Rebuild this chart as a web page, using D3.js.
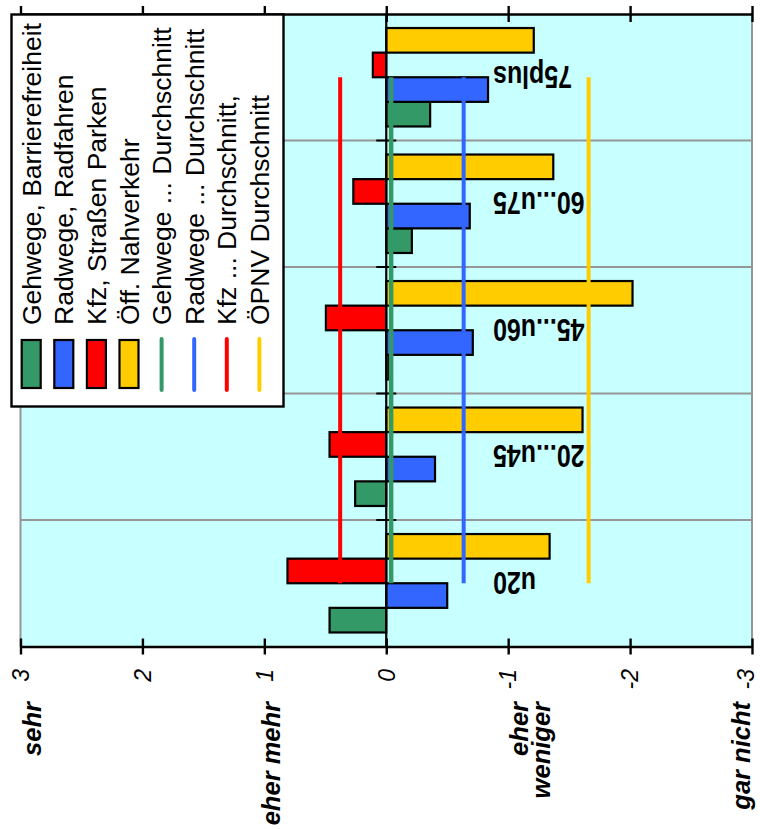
<!DOCTYPE html>
<html>
<head>
<meta charset="utf-8">
<script src="https://cdn.jsdelivr.net/npm/d3@7"></script>
<style>
  body { margin: 0; background: #fff; }
  svg { display: block; }
  text { font-family: "Liberation Sans", Arial, sans-serif; }
</style>
</head>
<body>
<svg id="chart" width="760" height="829"></svg>
<script>
// Age groups, listed from the top of the chart to the bottom
const ageGroups = ["75plus", "60...u75", "45...u60", "20...u45", "u20"];

// Mean rating per age group (3 = sehr, -3 = gar nicht)
const gehwege = [-0.36, -0.21, -0.02, 0.255, 0.465];
const radwege = [-0.835, -0.685, -0.71, -0.40, -0.50];
const kfz     = [0.11, 0.27, 0.495, 0.465, 0.81];
const oepnv   = [-1.21, -1.37, -2.02, -1.61, -1.34];

const seriesNames = ["Gehwege, Barrierefreiheit", "Radwege, Radfahren", "Kfz, Straßen Parken", "Öff. Nahverkehr"];

// Overall averages per topic
const averageNames = ["Gehwege ... Durchschnitt", "Radwege ... Durchschnitt", "Kfz ... Durchschnitt,", "ÖPNV Durchschnitt"];
const averages = [-0.04, -0.635, 0.378, -1.66];

// Value axis
const valueTicks = [3, 2, 1, 0, -1, -2, -3];
const scaleWords = [["sehr"], ["eher mehr"], ["eher", "weniger"], ["gar nicht"]];
const scaleWordValues = [3, 1, -1, -3];

// ---- layout & styling ----
const colors = ["#339966", "#3366FF", "#FF0000", "#FFCC00"];
const plot = { left: 20.5, right: 752, top: 14, bottom: 646.5 };

const svg = d3.select("#chart");
svg.append("rect").attr("width", 760).attr("height", 829).attr("fill", "#fff");

const x = d3.scaleLinear().domain([3, -3]).range([plot.left, plot.right]);
const yGroup = d3.scaleBand().domain(ageGroups).range([plot.top, plot.bottom]).padding(0);
// within a group, bars run top-down: Öff., Kfz, Rad, Geh
const seriesKeys = [3, 2, 1, 0];
const yBar = d3.scaleBand().domain(seriesKeys).range([0, yGroup.bandwidth()])
  .paddingInner(0).paddingOuter(0.57);

const seriesValues = [gehwege, radwege, kfz, oepnv];

// plot background
svg.append("rect")
  .attr("x", plot.left).attr("y", plot.top)
  .attr("width", plot.right - plot.left).attr("height", plot.bottom - plot.top)
  .attr("fill", "#C8FFFF");

// horizontal grid lines between age groups
svg.append("g").selectAll("line")
  .data(ageGroups.slice(1))
  .join("line")
  .attr("x1", plot.left).attr("x2", plot.right)
  .attr("y1", d => yGroup(d)).attr("y2", d => yGroup(d))
  .attr("stroke", "#969696").attr("stroke-width", 2);

// plot-area side borders
svg.append("g").selectAll("line")
  .data([plot.left, plot.right])
  .join("line")
  .attr("x1", d => d).attr("x2", d => d)
  .attr("y1", plot.top).attr("y2", plot.bottom)
  .attr("stroke", "#969696").attr("stroke-width", 2);

// bars
const barData = [];
seriesValues.forEach((vals, s) => vals.forEach((v, i) => barData.push({ s, group: ageGroups[i], v })));

svg.append("g").selectAll("rect")
  .data(barData)
  .join("rect")
  .attr("x", d => Math.min(x(0), x(d.v)))
  .attr("width", d => Math.abs(x(d.v) - x(0)))
  .attr("y", d => yGroup(d.group) + yBar(d.s))
  .attr("height", yBar.bandwidth())
  .attr("fill", d => colors[d.s])
  .attr("stroke", "#000").attr("stroke-width", 2.2);

// category axis along zero, with cross ticks at group boundaries
svg.append("line")
  .attr("x1", x(0)).attr("x2", x(0))
  .attr("y1", plot.top).attr("y2", plot.bottom)
  .attr("stroke", "#000").attr("stroke-width", 2.2);
svg.append("g").selectAll("line")
  .data(ageGroups.slice(1))
  .join("line")
  .attr("x1", x(0) - 10).attr("x2", x(0) + 10)
  .attr("y1", d => yGroup(d)).attr("y2", d => yGroup(d))
  .attr("stroke", "#000").attr("stroke-width", 2);

// average lines, from the first group's centre to the last group's centre
const yFirst = yGroup(ageGroups[0]) + yGroup.bandwidth() / 2;
const yLast = yGroup(ageGroups[ageGroups.length - 1]) + yGroup.bandwidth() / 2;
svg.append("g").selectAll("line")
  .data(averages)
  .join("line")
  .attr("x1", d => x(d)).attr("x2", d => x(d))
  .attr("y1", yFirst).attr("y2", yLast)
  .attr("stroke", (d, i) => colors[i])
  .attr("stroke-width", (d, i) => i === 0 ? 4.5 : 4);

// value axes top and bottom, with crossing ticks
function valueAxis(yPos) {
  const g = svg.append("g").attr("transform", `translate(0,${yPos})`)
    .call(d3.axisBottom(x).tickValues(valueTicks).tickSize(0).tickFormat(""));
  g.select(".domain").attr("stroke", "#000").attr("stroke-width", 2.4);
  g.selectAll(".tick").append("line")
    .attr("y1", -8).attr("y2", 8)
    .attr("stroke", "#000").attr("stroke-width", 2.4);
  return g;
}
valueAxis(plot.top);
valueAxis(plot.bottom);

// tick labels, rotated to read upwards (kept inside the right page edge)
svg.append("g").selectAll("text")
  .data(valueTicks)
  .join("text")
  .attr("transform", d => `translate(${Math.min(x(d) + 8.3, 754)},669) rotate(-90)`)
  .attr("text-anchor", "end")
  .attr("font-size", 23)
  .attr("font-style", "italic")
  .text(d => String(d));

// verbal scale anchors
const wordShift = [20, 16, 20, -2];
const scaleWordG = svg.append("g").selectAll("g")
  .data(scaleWords)
  .join("g")
  .attr("transform", (d, i) => `translate(${x(scaleWordValues[i]) + wordShift[i]},702) rotate(-90)`);
scaleWordG.selectAll("text")
  .data(d => d)
  .join("text")
  .attr("text-anchor", "end")
  .attr("y", (d, j) => j * 22)
  .attr("font-size", 25.5)
  .attr("font-weight", "bold")
  .attr("font-style", "italic")
  .text(d => d);

// age-group labels, upside down
svg.append("g").selectAll("text")
  .data(ageGroups)
  .join("text")
  .attr("transform", d => `translate(493,${yGroup(d) + yGroup.bandwidth() / 2 - 11.6}) rotate(180) scale(0.78,1)`)
  .attr("text-anchor", "end")
  .attr("font-size", 32)
  .attr("font-weight", "bold")
  .text(d => d);

// legend
const legend = svg.append("g");
legend.append("rect")
  .attr("x", 11.5).attr("y", 14.5).attr("width", 272).attr("height", 392)
  .attr("fill", "#fff").attr("stroke", "#000").attr("stroke-width", 2.4);

const legendItems = seriesNames.map((n, i) => ({ name: n, kind: "bar", c: i }))
  .concat(averageNames.map((n, i) => ({ name: n, kind: "line", c: i })));
const colX = d3.scaleLinear().domain([0, 1]).range([31.2, 63.8]);

const item = legend.selectAll("g.item")
  .data(legendItems)
  .join("g")
  .attr("class", "item")
  .attr("transform", (d, i) => `translate(${colX(i)},0)`);

item.filter(d => d.kind === "bar").append("rect")
  .attr("x", -9.5).attr("y", 340).attr("width", 19).attr("height", 48)
  .attr("fill", d => colors[d.c]).attr("stroke", "#000").attr("stroke-width", 2.2);
item.filter(d => d.kind === "line").append("line")
  .attr("x1", 0).attr("x2", 0).attr("y1", 339).attr("y2", 390)
  .attr("stroke", d => colors[d.c]).attr("stroke-width", 4).attr("stroke-linecap", "round");
item.append("text")
  .attr("transform", "translate(9.5,325) rotate(-90)")
  .attr("font-size", 26.5)
  .text(d => d.name);
</script>
</body>
</html>
